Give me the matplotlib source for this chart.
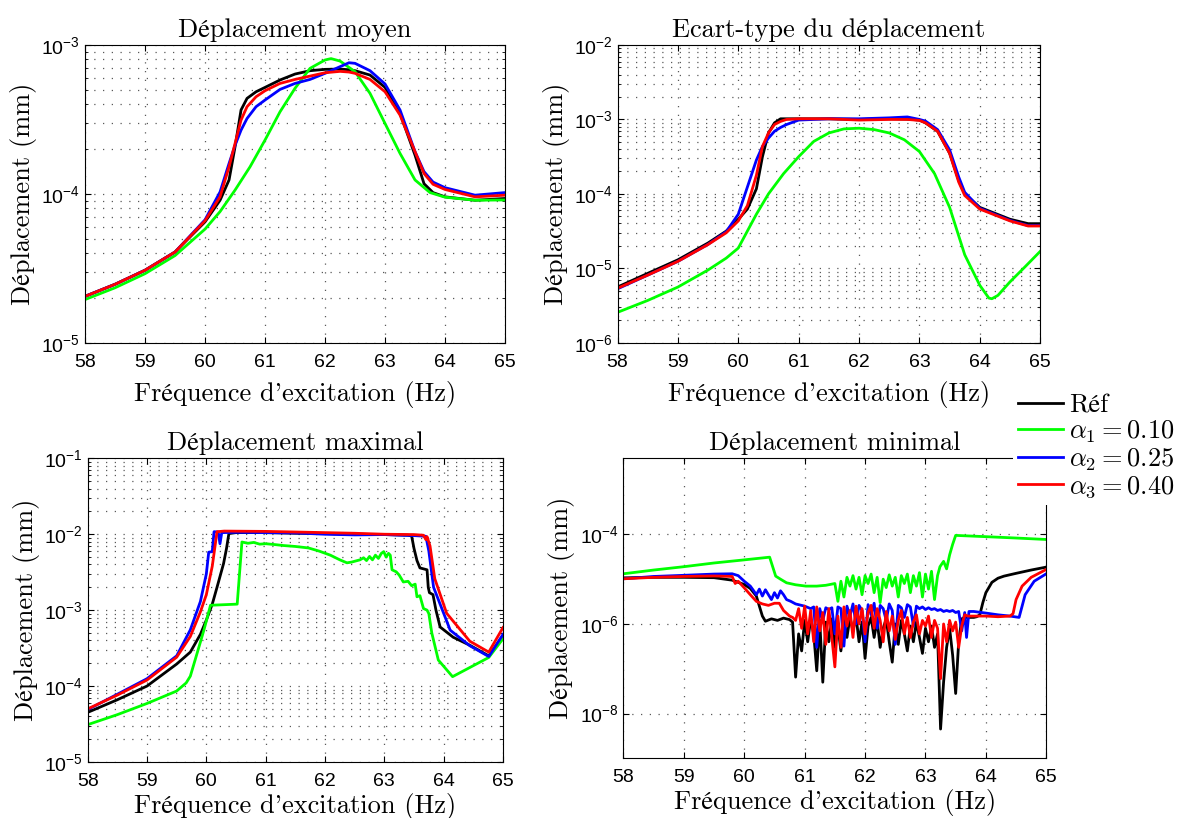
import numpy as np
import matplotlib
matplotlib.use('Agg')
import matplotlib.pyplot as plt
from matplotlib.ticker import LogLocator, NullFormatter, NullLocator

plt.rcParams['font.family'] = ['Liberation Sans', 'DejaVu Sans']
plt.rcParams['mathtext.fontset'] = 'cm'
SERIF = ['cmr10', 'STIXGeneral']

# ---- Deplacement moyen (top left)
f_moy = [58, 58.5, 59, 59.5, 60, 60.25, 60.4, 60.5, 60.6, 60.7, 60.85, 61, 61.25, 61.5,
         61.75, 62, 62.25, 62.4, 62.5, 62.75, 63, 63.25, 63.5, 63.65, 63.8, 64, 64.5, 65]
moy_ref = [2.05e-5, 2.47e-5, 3.07e-5, 4.07e-5, 6.49e-5, 9.06e-5, 1.24e-4, 2.07e-4, 3.66e-4, 4.38e-4,
           4.85e-4, 5.19e-4, 5.82e-4, 6.38e-4, 6.72e-4, 6.86e-4, 6.89e-4, 6.82e-4, 6.72e-4, 6.28e-4,
           5.19e-4, 3.47e-4, 1.82e-4, 1.17e-4, 1.02e-4, 9.55e-5, 9.06e-5, 9.31e-5]
moy_a2 = [2.05e-5, 2.47e-5, 3.07e-5, 4.07e-5, 6.7e-5, 1.03e-4, 1.6e-4, 2.12e-4, 2.68e-4, 3.21e-4,
          3.85e-4, 4.27e-4, 5.03e-4, 5.52e-4, 5.87e-4, 6.45e-4, 7.15e-4, 7.6e-4, 7.53e-4, 6.72e-4,
          5.47e-4, 3.66e-4, 1.92e-4, 1.41e-4, 1.2e-4, 1.1e-4, 9.8e-5, 1.02e-4]
moy_a3 = [2.05e-5, 2.47e-5, 3.07e-5, 4.07e-5, 6.6e-5, 9.55e-5, 1.52e-4, 2.18e-4, 3.13e-4, 3.85e-4,
          4.49e-4, 4.93e-4, 5.52e-4, 5.87e-4, 6.18e-4, 6.51e-4, 6.65e-4, 6.58e-4, 6.45e-4, 5.87e-4,
          4.85e-4, 3.38e-4, 1.92e-4, 1.37e-4, 1.16e-4, 1.07e-4, 9.55e-5, 9.8e-5]
f_moy_a1 = [58, 58.5, 59, 59.5, 60, 60.25, 60.5, 60.75, 61, 61.25, 61.5, 61.75, 62, 62.1,
            62.25, 62.5, 62.75, 63, 63.25, 63.5, 63.75, 64, 64.5, 65]
moy_a1 = [1.95e-5, 2.34e-5, 2.91e-5, 3.85e-5, 5.8e-5, 7.6e-5, 1.06e-4, 1.52e-4, 2.3e-4, 3.56e-4,
          5.12e-4, 6.97e-4, 7.93e-4, 8.1e-4, 7.8e-4, 6.62e-4, 4.73e-4, 2.97e-4, 1.87e-4, 1.24e-4,
          1.02e-4, 9.5e-5, 9.06e-5, 9.1e-5]

# ---- Ecart-type (top right)
f_std = [58, 58.5, 59, 59.5, 59.8, 60, 60.15, 60.3, 60.4, 60.5, 60.6, 60.7, 60.8, 61, 61.5,
         62, 62.5, 62.8, 63, 63.1, 63.3, 63.5, 63.65, 63.75, 64, 64.5, 64.8, 65]
std_ref = [5.6e-6, 8.55e-6, 1.3e-5, 2.19e-5, 3.16e-5, 4.56e-5, 6.24e-5, 1.17e-4, 3.16e-4, 6.58e-4,
           9.0e-4, 1.02e-3, 1.02e-3, 1.02e-3, 1.02e-3, 1.0e-3, 1.02e-3, 1.01e-3, 9.8e-4, 9.0e-4,
           6.94e-4, 3.51e-4, 1.52e-4, 1.0e-4, 6.58e-5, 4.56e-5, 3.98e-5, 3.98e-5]
std_a2 = [5.3e-6, 8.1e-6, 1.24e-5, 2.1e-5, 3.1e-5, 5.33e-5, 1.23e-4, 2.85e-4, 4.33e-4, 5.62e-4,
          6.94e-4, 7.8e-4, 8.55e-4, 9.8e-4, 1.02e-3, 1.02e-3, 1.05e-3, 1.08e-3, 1.0e-3, 9.5e-4,
          7.3e-4, 3.9e-4, 1.69e-4, 1.05e-4, 6.4e-5, 4.4e-5, 3.75e-5, 3.75e-5]
std_a3 = [5.4e-6, 8.1e-6, 1.24e-5, 2.09e-5, 3.0e-5, 4.33e-5, 6.93e-5, 1.78e-4, 4.33e-4, 6.58e-4,
          8.55e-4, 9.4e-4, 1.0e-3, 1.02e-3, 1.02e-3, 9.8e-4, 1.0e-3, 1.0e-3, 9.7e-4, 9.0e-4,
          6.94e-4, 3.5e-4, 1.44e-4, 9.5e-5, 6.24e-5, 4.33e-5, 3.7e-5, 3.7e-5]
f_std_a1 = [58, 58.5, 59, 59.5, 59.8, 60, 60.15, 60.3, 60.5, 60.75, 61, 61.25, 61.5, 61.75, 62,
            62.25, 62.5, 62.75, 63, 63.25, 63.5, 63.75, 64, 64.15, 64.2, 64.3, 64.5, 64.75, 65]
std_a1 = [2.56e-6, 3.7e-6, 5.6e-6, 9.5e-6, 1.37e-5, 1.87e-5, 3.16e-5, 5.33e-5, 1.0e-4, 1.87e-4,
          3.16e-4, 5.07e-4, 6.58e-4, 7.46e-4, 7.62e-4, 7.3e-4, 6.58e-4, 5.33e-4, 3.7e-4, 1.87e-4,
          6.58e-5, 1.52e-5, 5.9e-6, 3.98e-6, 3.9e-6, 4.33e-6, 6.58e-6, 1.05e-5, 1.69e-5]

# ---- Deplacement maximal (bottom left)
f_max_ref = [58, 58.5, 59, 59.5, 59.73, 59.9, 60, 60.1, 60.18, 60.29, 60.34, 60.38, 60.5, 61, 61.5,
             62, 62.5, 63, 63.4, 63.46, 63.5, 63.55, 63.6, 63.66, 63.72, 63.74, 63.76, 63.82,
             63.87, 63.94, 64.16, 64.44, 64.76, 65]
max_ref = [4.5e-5, 6.6e-5, 1.0e-4, 1.95e-4, 2.8e-4, 4.8e-4, 7.4e-4, 1.2e-3, 2.0e-3, 4.1e-3, 6.5e-3,
           1.02e-2, 1.05e-2, 1.05e-2, 1.03e-2, 1.02e-2, 1.0e-2, 9.9e-3, 9.7e-3, 9.5e-3, 6.5e-3,
           4.5e-3, 3.6e-3, 3.5e-3, 3.4e-3, 2.0e-3, 1.7e-3, 1.6e-3, 1.0e-3, 6.0e-4, 4.4e-4, 3.45e-4,
           2.5e-4, 4.6e-4]
f_max_a1 = [58, 58.5, 59, 59.5, 59.66, 59.73, 59.85, 59.96, 60.07, 60.3, 60.52, 60.6, 60.7, 60.8,
            60.9, 61.0, 61.16, 61.3, 61.5, 61.72, 61.9, 62.09, 62.25, 62.37, 62.45, 62.59, 62.65,
            62.7, 62.75, 62.8, 62.85, 62.9, 62.95, 62.99, 63.03, 63.07, 63.1, 63.13, 63.2, 63.25,
            63.32, 63.4, 63.46, 63.52, 63.55, 63.6, 63.66, 63.72, 63.75, 63.8, 63.91, 64.15,
            64.76, 65]
max_a1 = [3.1e-5, 4.2e-5, 5.9e-5, 8.6e-5, 1.1e-4, 1.35e-4, 2.8e-4, 5.5e-4, 1.16e-3, 1.18e-3,
          1.2e-3, 7.9e-3, 7.6e-3, 7.8e-3, 7.4e-3, 7.5e-3, 7.3e-3, 7.1e-3, 6.9e-3, 6.6e-3, 6.0e-3,
          5.3e-3, 4.6e-3, 4.2e-3, 4.3e-3, 4.6e-3, 4.9e-3, 4.5e-3, 5.1e-3, 4.6e-3, 5.3e-3, 4.8e-3,
          5.6e-3, 5.9e-3, 5.0e-3, 5.6e-3, 5.3e-3, 3.4e-3, 3.2e-3, 2.9e-3, 2.35e-3, 2.4e-3,
          2.1e-3, 2.2e-3, 1.5e-3, 1.55e-3, 1.05e-3, 1.0e-3, 9e-4, 5e-4, 2.2e-4, 1.33e-4,
          2.38e-4, 4.2e-4]
f_max_a2 = [58, 58.5, 59, 59.5, 59.73, 59.9, 60, 60.04, 60.1, 60.13, 60.2, 60.23, 60.26, 60.5, 61,
            61.5, 62, 62.5, 63, 63.5, 63.7, 63.75, 63.83, 64.11, 64.44, 64.76, 65]
max_a2 = [4.9e-5, 7.8e-5, 1.25e-4, 2.5e-4, 5.5e-4, 1.3e-3, 3.0e-3, 5.8e-3, 5.9e-3, 1.08e-2,
          1.07e-2, 7.5e-3, 1.05e-2, 1.06e-2, 1.05e-2, 1.04e-2, 1.0e-2, 9.8e-3, 9.9e-3, 9.6e-3,
          9.4e-3, 6e-3, 2.0e-3, 5.45e-4, 3.4e-4, 2.45e-4, 4.8e-4]
f_max_a3 = [58, 58.5, 59, 59.5, 59.73, 59.9, 60, 60.1, 60.18, 60.3, 61, 61.5, 62, 62.5, 63, 63.5,
            63.66, 63.7, 63.72, 63.77, 63.85, 64.05, 64.44, 64.76, 65]
max_a3 = [5.0e-5, 7.6e-5, 1.2e-4, 2.4e-4, 4.5e-4, 9.5e-4, 1.6e-3, 3.8e-3, 1.08e-2, 1.1e-2, 1.09e-2,
          1.07e-2, 1.05e-2, 1.03e-2, 1.0e-2, 9.9e-3, 9.7e-3, 8.5e-3, 9.3e-3, 7e-3, 2.6e-3, 9.1e-4,
          3.9e-4, 2.8e-4, 5.9e-4]

# ---- Deplacement minimal (bottom right)
f_min_ref = [58.0, 58.5, 59.0, 59.5, 59.8, 60.0, 60.1, 60.2, 60.25, 60.3, 60.35, 60.45, 60.55,
             60.65, 60.75, 60.80, 60.85, 60.90, 60.95, 61.00, 61.05, 61.10, 61.15, 61.20, 61.25,
             61.30, 61.35, 61.40, 61.45, 61.50, 61.55, 61.60, 61.65, 61.70, 61.75, 61.80, 61.85,
             61.90, 61.95, 62.00, 62.05, 62.10, 62.15, 62.20, 62.25, 62.30, 62.35, 62.40, 62.45,
             62.50, 62.55, 62.60, 62.65, 62.70, 62.75, 62.80, 62.85, 62.90, 62.95, 63.00, 63.05,
             63.10, 63.15, 63.20, 63.25, 63.30, 63.35, 63.40, 63.45, 63.50, 63.55, 63.60, 63.65,
             63.70, 63.75, 63.80, 63.85, 63.90, 63.95, 64.0, 64.1, 64.2, 64.3, 64.5, 64.75, 65.0]
min_ref = [1.07e-5, 1.1e-5, 1.1e-5, 1.08e-5, 9.5e-6, 7.6e-6, 6.2e-6, 4.2e-6, 2.5e-6, 1.5e-6,
           1.15e-6, 1.3e-6, 1.2e-6, 1.35e-6, 1.25e-6, 1.1e-6, 6.5e-8, 6e-7, 2.5e-7, 1.2e-6, 4e-7,
           1.3e-6, 6e-7, 9e-8, 1.2e-6, 5e-8, 1.1e-6, 4e-7, 1.3e-6, 3e-7, 9e-7, 2.5e-7, 1.2e-6,
           5e-7, 1.4e-6, 7e-7, 1.5e-6, 4e-7, 1.1e-6, 1.7e-7, 9e-7, 1.4e-6, 5e-7, 1.2e-6, 3e-7,
           8e-7, 1.3e-6, 4e-7, 1.4e-7, 1e-6, 3.5e-7, 1.2e-6, 6e-7, 2.5e-7, 9e-7, 4e-7, 1.1e-6,
           5e-7, 2.2e-7, 8e-7, 4e-7, 9e-7, 3e-7, 6e-7, 4.5e-9, 5e-8, 3e-7, 8e-7, 2e-7, 2.8e-8,
           4e-7, 1.3e-6, 1.4e-6, 1.4e-6, 1.4e-6, 1.4e-6, 1.45e-6, 1.6e-6, 3e-6, 5e-6, 8.5e-6,
           1.05e-5, 1.17e-5, 1.35e-5, 1.6e-5, 1.86e-5]
f_min_a1 = [58.0, 58.5, 59.0, 59.5, 60.0, 60.42, 60.52, 60.6, 60.7, 60.85, 61.02, 61.2, 61.35,
            61.5, 61.55, 61.60, 61.65, 61.70, 61.75, 61.80, 61.85, 61.90, 61.95, 62.00, 62.05,
            62.10, 62.15, 62.20, 62.25, 62.30, 62.35, 62.40, 62.45, 62.50, 62.55, 62.60, 62.65,
            62.70, 62.75, 62.80, 62.85, 62.90, 62.95, 63.00, 63.05, 63.10, 63.15, 63.20, 63.24,
            63.30, 63.35, 63.40, 63.45, 63.50, 64.0, 64.5, 65.0]
min_a1 = [1.32e-5, 1.6e-5, 1.9e-5, 2.3e-5, 2.7e-5, 3.1e-5, 1.17e-5, 1.0e-5, 8.3e-6, 7.5e-6,
          7.0e-6, 7e-6, 7.3e-6, 8e-6, 3.2e-6, 9e-6, 4e-6, 1.1e-5, 7e-6, 1.2e-5, 6e-6, 1.1e-5,
          4.5e-6, 1.2e-5, 8e-6, 1.3e-5, 5e-6, 1.1e-5, 3e-6, 1e-5, 6.5e-6, 1.25e-5, 7e-6, 1.1e-5,
          4e-6, 1.2e-5, 8e-6, 1.3e-5, 5e-6, 1.2e-5, 7e-6, 1.4e-5, 4e-6, 1.3e-5, 6e-6, 1.5e-5,
          3.5e-6, 1.2e-5, 1.9e-5, 2.5e-5, 1.7e-5, 3.5e-5, 6e-5, 9.5e-5, 8.9e-5, 8.3e-5, 7.7e-5]
f_min_a2 = [58.0, 58.5, 59.0, 59.5, 59.8, 59.9, 60.0, 60.1, 60.14, 60.2, 60.25, 60.3, 60.35, 60.4,
            60.45, 60.5, 60.55, 60.6, 60.65, 60.7, 60.77, 60.85, 61.0, 61.1, 61.15, 61.20, 61.25,
            61.30, 61.35, 61.40, 61.45, 61.50, 61.55, 61.60, 61.65, 61.70, 61.75, 61.80, 61.85,
            61.90, 61.95, 62.00, 62.05, 62.10, 62.15, 62.20, 62.25, 62.30, 62.35, 62.40, 62.45,
            62.50, 62.55, 62.60, 62.65, 62.70, 62.75, 62.80, 62.85, 62.90, 62.95, 63.00, 63.05,
            63.10, 63.15, 63.20, 63.25, 63.30, 63.35, 63.40, 63.45, 63.50, 63.55, 63.60, 63.65,
            63.68, 63.72, 63.8, 64.0, 64.2, 64.4, 64.55, 64.6, 64.65, 64.8, 65.0]
min_a2 = [1.02e-5, 1.15e-5, 1.22e-5, 1.3e-5, 1.32e-5, 1.2e-5, 9e-6, 7e-6, 5.9e-6, 4.5e-6, 6e-6,
          4.2e-6, 5.8e-6, 4.5e-6, 3.5e-6, 5e-6, 3.8e-6, 5.5e-6, 4.5e-6, 3.5e-6, 3.2e-6, 2.8e-6,
          2.5e-6, 2.2e-6, 2.4e-6, 3e-7, 2.2e-6, 1.2e-6, 2.3e-6, 2.1e-6, 2.3e-6, 6e-7, 2.4e-6,
          2.2e-6, 3.2e-7, 2.5e-6, 1.5e-6, 2.8e-6, 1e-6, 2.6e-6, 2e-6, 4e-7, 2.7e-6, 1.6e-6,
          2.9e-6, 8e-7, 2.6e-6, 2.2e-6, 1.2e-6, 2.8e-6, 2e-6, 3.5e-7, 2.6e-6, 2.3e-6, 1.4e-6,
          2.7e-6, 2.4e-6, 9e-7, 2.5e-6, 2.2e-6, 2.4e-6, 2.1e-6, 2.3e-6, 2.1e-6, 2.2e-6, 2e-6,
          2.1e-6, 1.9e-6, 2e-6, 1.9e-6, 2e-6, 1.8e-6, 1.9e-6, 7e-7, 1.8e-6, 5e-7, 1.9e-6,
          1.9e-6, 1.75e-6, 1.6e-6, 1.5e-6, 1.4e-6, 2.5e-6, 4.5e-6, 9e-6, 1.32e-5]
f_min_a3 = [58.0, 58.5, 59.0, 59.5, 59.8, 59.85, 59.9, 60.0, 60.1, 60.2, 60.3, 60.4, 60.5, 60.58,
            60.65, 60.75, 60.80, 60.85, 60.90, 60.95, 61.00, 61.05, 61.10, 61.15, 61.20, 61.25,
            61.30, 61.35, 61.40, 61.45, 61.50, 61.55, 61.60, 61.65, 61.70, 61.75, 61.80, 61.85,
            61.90, 61.95, 62.00, 62.05, 62.10, 62.15, 62.20, 62.25, 62.30, 62.35, 62.40, 62.45,
            62.50, 62.55, 62.60, 62.65, 62.70, 62.75, 62.80, 62.85, 62.90, 62.95, 63.00, 63.05,
            63.10, 63.15, 63.20, 63.25, 63.30, 63.35, 63.40, 63.45, 63.50, 63.55, 63.60, 63.65,
            63.70, 63.8, 64.0, 64.2, 64.4, 64.45, 64.5, 64.6, 64.75, 65.0]
min_a3 = [1.02e-5, 1.1e-5, 1.15e-5, 1.18e-5, 1.15e-5, 8e-6, 9e-6, 6.4e-6, 4.5e-6, 3.2e-6, 2.8e-6,
          2.6e-6, 2.9e-6, 2.9e-6, 2e-6, 1.5e-6, 1.4e-6, 1.2e-6, 2.2e-6, 8e-7, 2.5e-6, 6e-7, 2e-6,
          4e-7, 2.4e-6, 7e-7, 1.8e-6, 3.5e-7, 2.2e-6, 5e-7, 1.1e-7, 1.5e-6, 3e-7, 2.4e-6, 9e-7,
          2e-6, 5e-7, 2.5e-6, 1e-6, 2.2e-6, 6e-7, 1.8e-6, 2.6e-6, 8e-7, 2.2e-6, 1.2e-6, 4e-7,
          1.9e-6, 7e-7, 1.5e-6, 4.5e-7, 1.2e-6, 2e-6, 6e-7, 1.4e-6, 5e-7, 1.1e-6, 1.6e-6, 6e-7,
          1.2e-6, 9e-7, 1.5e-6, 5e-7, 1.2e-6, 8e-7, 6e-8, 1e-6, 4e-7, 1.2e-6, 7e-7, 1.1e-6, 3e-7,
          9e-7, 1.6e-6, 1.5e-6, 1.5e-6, 1.5e-6, 1.45e-6, 1.5e-6, 1.7e-6, 3.5e-6, 7e-6, 1.1e-5,
          1.65e-5]

labels = ['Réf', r'$\alpha_1 = 0.10$', r'$\alpha_2 = 0.25$', r'$\alpha_3 = 0.40$']
colors = ['black', '#00ff00', '#0000ff', '#ff0000']
titles = ['Déplacement moyen', 'Ecart-type du déplacement',
          'Déplacement maximal', 'Déplacement minimal']

fig = plt.figure(figsize=(11.88, 8.18), dpi=100)
ax1 = fig.add_axes([0.0716, 0.581, 0.3535, 0.364])
ax2 = fig.add_axes([0.5198, 0.581, 0.3558, 0.364])
ax3 = fig.add_axes([0.0738, 0.0685, 0.3496, 0.3712])
ax4 = fig.add_axes([0.5248, 0.073, 0.3559, 0.3667])

curves = [
    [(f_moy, moy_ref), (f_moy_a1, moy_a1), (f_moy, moy_a2), (f_moy, moy_a3)],
    [(f_std, std_ref), (f_std_a1, std_a1), (f_std, std_a2), (f_std, std_a3)],
    [(f_max_ref, max_ref), (f_max_a1, max_a1), (f_max_a2, max_a2), (f_max_a3, max_a3)],
    [(f_min_ref, min_ref), (f_min_a1, min_a1), (f_min_a2, min_a2), (f_min_a3, min_a3)],
]
ylims = [(1e-5, 1e-3), (1e-6, 1e-2), (1e-5, 1e-1), (1e-9, 5e-3)]
grid_style = dict(linestyle=(0, (1, 6)), color='0.35', linewidth=0.9)

for i, (ax, title, series, ylim) in enumerate(zip([ax1, ax2, ax3, ax4], titles, curves, ylims)):
    # draw order: ref, a1, a2, a3 (red on top)
    for (x, y), c, lab in zip(series, colors, labels):
        ax.plot(x, y, color=c, lw=2, label=lab)
    ax.set_yscale('log')
    ax.set_xlim(58, 65)
    ax.set_ylim(*ylim)
    ax.set_xticks(np.arange(58, 66))
    ax.yaxis.set_minor_formatter(NullFormatter())
    ax.grid(True, which='major', **grid_style)
    ax.tick_params(which='both', direction='in', top=True, right=True, labelsize=14)
    ax.tick_params(which='major', length=4)
    ax.tick_params(which='minor', length=2)
    ax.tick_params(axis='x', pad=8)
    ax.set_title(title, family=SERIF, fontsize=19, pad=6)
    ax.set_xlabel("Fréquence d'excitation (Hz)", family=SERIF, fontsize=19,
                  labelpad=7 if i < 2 else 2)
    ax.set_ylabel('Déplacement (mm)', family=SERIF, fontsize=19, labelpad=3)

for ax in [ax1, ax2, ax3]:
    ax.yaxis.set_minor_locator(LogLocator(base=10, subs=np.arange(2, 10)))
    ax.grid(True, which='minor', axis='y', **grid_style)

ax4.yaxis.set_major_locator(LogLocator(base=100))
ax4.yaxis.set_minor_locator(NullLocator())

leg = ax4.legend(loc='upper right', bbox_to_anchor=(1180 / 1188, 1 - 388 / 818),
                 bbox_transform=fig.transFigure, fontsize=19, frameon=True,
                 fancybox=False, edgecolor='none', facecolor='white', framealpha=1,
                 handlelength=1.7, handletextpad=0.25, labelspacing=0.05,
                 borderpad=0.2, borderaxespad=0)
for t in leg.get_texts()[:1]:
    t.set_family(SERIF)

fig.savefig('out.png', dpi=100)
